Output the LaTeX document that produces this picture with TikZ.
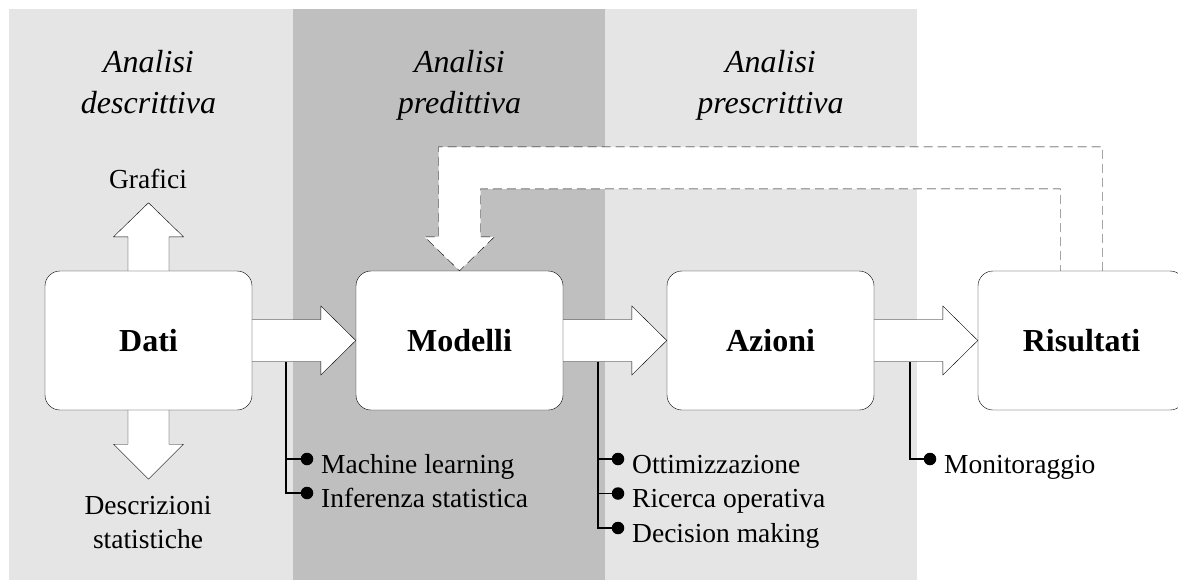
\documentclass[tikz,border=0pt]{standalone}
\usepackage{fontspec}
\setmainfont{Liberation Serif}
\usetikzlibrary{calc}
\definecolor{panellight}{gray}{0.9}
\definecolor{paneldark}{gray}{0.75}
\pgfdeclarelayer{panels}
\pgfdeclarelayer{arrows}
\pgfsetlayers{panels,arrows,main}
\begin{document}
\begin{tikzpicture}[x=1pt,y=-1pt,line width=1.8pt,
  box/.style={draw,fill=white,rounded corners=15pt,minimum width=207pt,minimum height=139pt,inner sep=0pt,font=\fontsize{32}{38}\selectfont\bfseries},
  bigarrow/.style={draw,fill=white,line join=miter},
  dasharrow/.style={draw,fill=white,dash pattern=on 9pt off 5pt},
  header/.style={align=center,inner sep=0pt,anchor=base,font=\fontsize{32}{41}\selectfont\itshape},
  lbl/.style={align=center,inner sep=0pt,anchor=base,font=\fontsize{27.5}{34}\selectfont},
  item/.style={inner sep=0pt,anchor=base west,font=\fontsize{27.5}{34}\selectfont},
  dotb/.style={circle,fill=black,minimum size=12.5pt,inner sep=0pt},
  tick/.style={draw,line width=1.8pt}]
\useasboundingbox (0,0) rectangle (1178,581);
% panels
\begin{pgfonlayer}{panels}
\fill[panellight] (9,9) rectangle (293,580);
\fill[paneldark] (293,9) rectangle (605,580);
\fill[panellight] (605,9) rectangle (917,580);
\end{pgfonlayer}
% headers (base anchor = last line)
\node[header] (h1) at (148.5,113) {Analisi\\descrittiva};
\node[header] (h2) at (459.5,113) {Analisi\\predittiva};
\node[header] (h3) at (770.5,113) {Analisi\\prescrittiva};
% boxes
\node[box] (dati) at (148.5,340.5) {Dati};
\node[box] (modelli) at (459.5,340.5) {Modelli};
\node[box] (azioni) at (770.5,340.5) {Azioni};
\node[box] (risultati) at (1081.5,340.5) {Risultati};
\begin{pgfonlayer}{arrows}
% horizontal arrows
\foreach \a/\b in {dati/modelli,modelli/azioni,azioni/risultati}{
  \draw[bigarrow] ($(\a.east)+(0,-21)$) -- ($(\b.west)+(-35,-21)$) -- ($(\b.west)+(-35,-34.5)$)
    -- (\b.west) -- ($(\b.west)+(-35,34.5)$) -- ($(\b.west)+(-35,21)$) -- ($(\a.east)+(0,21)$);
}
% vertical arrows from Dati
\draw[bigarrow] ($(dati.north)+(-20.5,0)$) -- ($(dati.north)+(-20.5,-34)$) -- ($(dati.north)+(-35,-34)$)
  -- ($(dati.north)+(0,-68)$) -- ($(dati.north)+(35,-34)$) -- ($(dati.north)+(20.5,-34)$) -- ($(dati.north)+(20.5,0)$);
\draw[bigarrow] ($(dati.south)+(-20.5,0)$) -- ($(dati.south)+(-20.5,34)$) -- ($(dati.south)+(-35,34)$)
  -- ($(dati.south)+(0,69)$) -- ($(dati.south)+(35,34)$) -- ($(dati.south)+(20.5,34)$) -- ($(dati.south)+(20.5,0)$);
% feedback dashed arrow
\draw[dasharrow] ($(risultati.north)+(21,0)$) -- ($(risultati.north)+(21,-124)$) -- ($(modelli.north)+(-21,-124)$)
  -- ($(modelli.north)+(-21,-34)$) -- ($(modelli.north)+(-35,-34)$) -- (modelli.north)
  -- ($(modelli.north)+(35,-34)$) -- ($(modelli.north)+(21,-34)$) -- ($(modelli.north)+(21,-82)$)
  -- ($(risultati.north)+(-21,-82)$) -- ($(risultati.north)+(-21,0)$);
% bullet list connectors
\coordinate (l1) at ($(dati.east)+(34,21)$);
\coordinate (l2) at ($(modelli.east)+(35,21)$);
\coordinate (l3) at ($(azioni.east)+(36,21)$);
\coordinate (c11) at (307,459);
\coordinate (c12) at (307,493);
\coordinate (c21) at (618,459);
\coordinate (c22) at (618,493.5);
\coordinate (c23) at (618,528);
\coordinate (c31) at (930,459);
\draw[tick] (l1) |- (c11); \draw[tick] (l1) |- (c12);
\draw[tick] (l2) |- (c21); \draw[tick] (l2) |- (c22); \draw[tick] (l2) |- (c23);
\draw[tick] (l3) |- (c31);
\end{pgfonlayer}
\node[lbl] (grafici) at (148,188) {Grafici};
\node[lbl] (descr) at (148,548) {Descrizioni\\statistiche};
\node[dotb] (b11) at (c11) {};
\node[dotb] (b12) at (c12) {};
\node[dotb] (b21) at (c21) {};
\node[dotb] (b22) at (c22) {};
\node[dotb] (b23) at (c23) {};
\node[dotb] (b31) at (c31) {};
\node[item] (t11) at (321,473) {Machine learning};
\node[item] (t12) at (321,507) {Inferenza statistica};
\node[item] (t21) at (632,473) {Ottimizzazione};
\node[item] (t22) at (632,507.5) {Ricerca operativa};
\node[item] (t23) at (632,542) {Decision making};
\node[item] (t31) at (944,473) {Monitoraggio};
\end{tikzpicture}
\end{document}
